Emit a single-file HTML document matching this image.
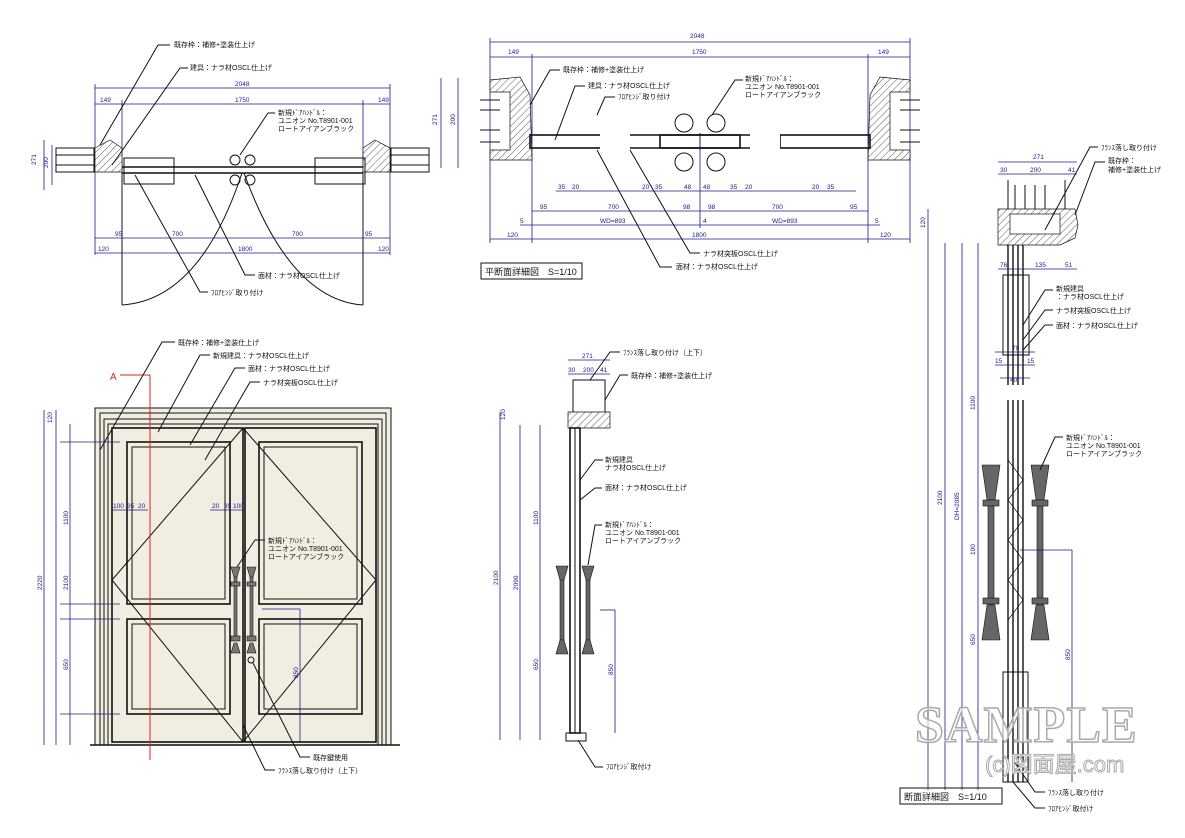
<!DOCTYPE html>
<html><head><meta charset="utf-8"><style>
html,body{margin:0;padding:0;background:#fff;width:1185px;height:838px;overflow:hidden}
svg{display:block}
text{font-family:"Liberation Sans","Noto Sans CJK JP",sans-serif;font-size:7px;fill:#111}
.d{font-size:6.5px;fill:#1a1a8c}
.b{stroke:#1a1a8c;stroke-width:.8;fill:none}
.k{stroke:#111;stroke-width:1;fill:none}
.k2{stroke:#111;stroke-width:1.6;fill:none}
.h{stroke:#111;stroke-width:.7;fill:url(#hat)}
</style></head><body>
<svg width="1185" height="838" viewBox="0 0 1185 838" xmlns="http://www.w3.org/2000/svg">
<defs><pattern id="hat" width="5" height="5" patternUnits="userSpaceOnUse" patternTransform="rotate(45)"><rect width="5" height="5" fill="#fff"/><line x1="0" y1="0" x2="0" y2="5" stroke="#111" stroke-width=".7"/></pattern></defs>

<!-- ===== Top-left plan ===== -->
<g>
<line class="b" x1="95" y1="88" x2="390" y2="88"/><text class="d" x="235" y="86">2048</text>
<line class="b" x1="95" y1="104" x2="390" y2="104"/><text class="d" x="100" y="102">149</text><text class="d" x="235" y="102">1750</text><text class="d" x="378" y="102">149</text>
<line class="b" x1="95" y1="84" x2="95" y2="255"/><line class="b" x1="390" y1="84" x2="390" y2="255"/>
<line class="b" x1="122" y1="100" x2="122" y2="240"/><line class="b" x1="363" y1="100" x2="363" y2="240"/>
<line class="b" x1="44" y1="140" x2="44" y2="190"/><text class="d" x="36" y="165" transform="rotate(-90 36 165)">271</text>
<line class="b" x1="52" y1="145" x2="52" y2="185"/><text class="d" x="48" y="168" transform="rotate(-90 48 168)">200</text>
<path class="h" d="M95 148 L110 140 L122 148 L122 172 L95 172 Z"/>
<path class="h" d="M363 148 L375 140 L390 148 L390 172 L363 172 Z"/>
<rect class="k" x="56" y="148" width="38" height="24"/><line class="k" x1="56" y1="155" x2="94" y2="155"/><line class="k" x1="56" y1="165" x2="94" y2="165"/>
<rect class="k" x="391" y="148" width="38" height="24"/><line class="k" x1="391" y1="155" x2="429" y2="155"/><line class="k" x1="391" y1="165" x2="429" y2="165"/>
<line class="k2" x1="122" y1="167" x2="363" y2="167"/><line class="k2" x1="122" y1="173" x2="363" y2="173"/>
<rect class="k" x="124" y="158" width="50" height="26"/><rect class="k" x="315" y="158" width="50" height="26"/>
<circle class="k" cx="235" cy="160" r="5"/><circle class="k" cx="250" cy="160" r="5"/><circle class="k" cx="235" cy="180" r="5"/><circle class="k" cx="250" cy="180" r="5"/>
<line class="k" x1="122" y1="173" x2="122" y2="305"/><line class="k" x1="363" y1="173" x2="363" y2="305"/>
<path class="k" d="M122 305 Q200 300 242 173"/><path class="k" d="M363 305 Q290 300 244 173"/>
<line class="b" x1="95" y1="238" x2="390" y2="238"/><text class="d" x="115" y="236">95</text><text class="d" x="172" y="236">700</text><text class="d" x="292" y="236">700</text><text class="d" x="365" y="236">95</text>
<line class="b" x1="95" y1="253" x2="390" y2="253"/><text class="d" x="98" y="251">120</text><text class="d" x="238" y="251">1800</text><text class="d" x="378" y="251">120</text>
<polyline class="k" points="100,145 158,45 170,45"/><text x="174" y="47">既存枠：補修+塗装仕上げ</text>
<polyline class="k" points="112,165 180,68 188,68"/><text x="190" y="70">建具：ナラ材OSCL仕上げ</text>
<polyline class="k" points="240,155 268,113 275,113"/><text x="278" y="115">新規ﾄﾞｱﾊﾝﾄﾞﾙ：</text><text x="278" y="123">ユニオン No.T8901-001</text><text x="278" y="131">ロートアイアンブラック</text>
<polyline class="k" points="195,175 245,275 255,275"/><text x="258" y="278">面材：ナラ材OSCL仕上げ</text>
<polyline class="k" points="135,175 200,292 208,292"/><text x="211" y="295">ﾌﾛｱﾋﾝｼﾞ取り付け</text>
</g>

<!-- ===== Top-middle plan ===== -->
<g>
<line class="b" x1="490" y1="42" x2="910" y2="42"/><text class="d" x="690" y="38">2048</text>
<line class="b" x1="490" y1="57" x2="910" y2="57"/><text class="d" x="508" y="54">149</text><text class="d" x="692" y="54">1750</text><text class="d" x="878" y="54">149</text>
<line class="b" x1="490" y1="38" x2="490" y2="243"/><line class="b" x1="910" y1="38" x2="910" y2="243"/>
<line class="b" x1="532" y1="54" x2="532" y2="243"/><line class="b" x1="868" y1="54" x2="868" y2="243"/>
<line class="b" x1="441" y1="78" x2="441" y2="168"/><text class="d" x="437" y="125" transform="rotate(-90 437 125)">271</text>
<line class="b" x1="458" y1="78" x2="458" y2="168"/><text class="d" x="455" y="125" transform="rotate(-90 455 125)">200</text>
<path class="h" d="M490 80 L520 77 L530 95 L532 160 L490 160 L490 150 L510 150 L510 92 L490 92 Z"/>
<path class="h" d="M910 80 L880 77 L870 95 L868 160 L910 160 L910 150 L890 150 L890 92 L910 92 Z"/>
<line class="k" x1="480" y1="100" x2="500" y2="100"/><line class="k" x1="480" y1="110" x2="500" y2="110"/><line class="k" x1="480" y1="130" x2="500" y2="130"/><line class="k" x1="480" y1="142" x2="500" y2="142"/>
<line class="k" x1="900" y1="100" x2="920" y2="100"/><line class="k" x1="900" y1="110" x2="920" y2="110"/><line class="k" x1="900" y1="130" x2="920" y2="130"/><line class="k" x1="900" y1="142" x2="920" y2="142"/>
<rect class="k2" x="530" y="135" width="90" height="13"/><rect class="k2" x="780" y="135" width="90" height="13"/>
<line class="k2" x1="620" y1="135" x2="780" y2="135"/><line class="k2" x1="620" y1="148" x2="780" y2="148"/>
<rect fill="#fff" x="600" y="130" width="30" height="22"/><rect fill="#fff" x="750" y="130" width="30" height="22"/>
<rect class="k2" x="660" y="135" width="80" height="13"/>
<line class="k" x1="700" y1="133" x2="700" y2="150"/>
<circle class="k" cx="684" cy="123" r="9"/><circle class="k" cx="716" cy="123" r="9"/><circle class="k" cx="684" cy="162" r="9"/><circle class="k" cx="716" cy="162" r="9"/>
<line class="b" x1="532" y1="211" x2="868" y2="211"/><text class="d" x="540" y="209">95</text><text class="d" x="608" y="209">700</text><text class="d" x="683" y="209">98</text><text class="d" x="708" y="209">98</text><text class="d" x="772" y="209">700</text><text class="d" x="850" y="209">95</text>
<line class="b" x1="520" y1="225" x2="880" y2="225"/><text class="d" x="520" y="223">5</text><text class="d" x="600" y="223">WD=893</text><text class="d" x="703" y="223">4</text><text class="d" x="772" y="223">WD=893</text><text class="d" x="875" y="223">5</text>
<line class="b" x1="490" y1="239" x2="910" y2="239"/><text class="d" x="507" y="237">120</text><text class="d" x="692" y="237">1800</text><text class="d" x="880" y="237">120</text>
<line class="b" x1="700" y1="135" x2="700" y2="228"/>
<text class="d" x="558" y="189">35</text><text class="d" x="572" y="189">20</text><text class="d" x="642" y="189">20</text><text class="d" x="655" y="189">35</text><text class="d" x="684" y="189">48</text><text class="d" x="703" y="189">48</text><text class="d" x="730" y="189">35</text><text class="d" x="745" y="189">20</text><text class="d" x="812" y="189">20</text><text class="d" x="827" y="189">35</text>
<line class="b" x1="556" y1="191" x2="856" y2="191"/>
<polyline class="k" points="530,105 550,70 560,70"/><text x="563" y="72">既存枠：補修+塗装仕上げ</text>
<polyline class="k" points="555,140 575,86 585,86"/><text x="588" y="88">建具：ナラ材OSCL仕上げ</text>
<polyline class="k" points="597,115 605,97 615,97"/><text x="618" y="99">ﾌﾛｱﾋﾝｼﾞ取り付け</text>
<polyline class="k" points="712,115 735,80 743,80"/><text x="745" y="81">新規ﾄﾞｱﾊﾝﾄﾞﾙ：</text><text x="745" y="89">ユニオン No.T8901-001</text><text x="745" y="97">ロートアイアンブラック</text>
<polyline class="k" points="630,150 690,253 700,253"/><text x="703" y="256">ナラ材突板OSCL仕上げ</text>
<polyline class="k" points="597,150 660,267 672,267"/><text x="676" y="269">面材：ナラ材OSCL仕上げ</text>
<rect class="k" x="481" y="263" width="101" height="16"/><text x="485" y="275" style="font-size:9px">平断面詳細図　S=1/10</text>
</g>

<!-- ===== Elevation ===== -->
<g>
<rect x="95" y="408" width="296" height="337" fill="#f2ede1" stroke="#111"/>
<rect class="k" x="100" y="413" width="286" height="332"/>
<rect class="k" x="104" y="419" width="278" height="326"/>
<rect class="k" x="108" y="424" width="270" height="321"/>
<rect class="k2" x="112" y="428" width="131" height="314"/>
<rect class="k2" x="245" y="428" width="131" height="314"/>
<rect class="k2" x="127" y="442" width="103" height="162"/><rect class="k" x="132" y="447" width="93" height="152"/>
<rect class="k2" x="127" y="619" width="103" height="95"/><rect class="k" x="132" y="624" width="93" height="85"/>
<rect class="k2" x="259" y="442" width="103" height="162"/><rect class="k" x="264" y="447" width="93" height="152"/>
<rect class="k2" x="259" y="619" width="103" height="95"/><rect class="k" x="264" y="624" width="93" height="85"/>
<polyline class="k" points="243,428 112,580 243,742 376,580 243,428"/>
<line x1="90" y1="745" x2="400" y2="745" stroke="#111" stroke-width="1.5"/>
<g fill="#777" stroke="#111" stroke-width=".6">
<rect x="234" y="575" width="3" height="62"/><rect x="250" y="575" width="3" height="62"/>
<path d="M231 567 L240 567 L237 577 L234 577 Z"/><path d="M247 567 L256 567 L253 577 L250 577 Z"/>
<path d="M234 643 L237 643 L240 653 L231 653 Z"/><path d="M250 643 L253 643 L256 653 L247 653 Z"/>
<rect x="231" y="582" width="9" height="4"/><rect x="247" y="582" width="9" height="4"/>
<rect x="231" y="636" width="9" height="5"/><rect x="247" y="636" width="9" height="5"/>
</g>
<circle class="k" cx="251" cy="660" r="3"/>
<line x1="150" y1="375" x2="150" y2="760" stroke="#d22" stroke-width="1"/>
<line x1="120" y1="375" x2="150" y2="375" stroke="#d22"/><text x="110" y="380" style="fill:#d22;font-size:10px">A</text>
<line class="b" x1="44" y1="410" x2="44" y2="745"/><text class="d" x="42" y="590" transform="rotate(-90 42 590)">2220</text>
<line class="b" x1="56" y1="410" x2="56" y2="745"/>
<line class="b" x1="70" y1="424" x2="70" y2="745"/>
<text class="d" x="52" y="423" transform="rotate(-90 52 423)">120</text>
<text class="d" x="68" y="590" transform="rotate(-90 68 590)">2100</text>
<text class="d" x="68" y="525" transform="rotate(-90 68 525)">1100</text>
<text class="d" x="68" y="670" transform="rotate(-90 68 670)">650</text>
<line class="b" x1="60" y1="442" x2="120" y2="442"/><line class="b" x1="60" y1="604" x2="120" y2="604"/><line class="b" x1="60" y1="619" x2="120" y2="619"/><line class="b" x1="60" y1="714" x2="120" y2="714"/>
<line class="b" x1="262" y1="609" x2="300" y2="609"/><line class="b" x1="300" y1="609" x2="300" y2="742"/><text class="d" x="298" y="678" transform="rotate(-90 298 678)">850</text>
<line class="b" x1="112" y1="510" x2="148" y2="510"/><text class="d" x="113" y="508">100</text><text class="d" x="127" y="508">35</text><text class="d" x="138" y="508">20</text>
<line class="b" x1="210" y1="510" x2="243" y2="510"/><text class="d" x="212" y="508">20</text><text class="d" x="224" y="508">35</text><text class="d" x="233" y="508">100</text>
<polyline class="k" points="100,450 162,342 175,342"/><text x="178" y="345">既存枠：補修+塗装仕上げ</text>
<polyline class="k" points="158,432 200,355 210,355"/><text x="213" y="358">新規建具：ナラ材OSCL仕上げ</text>
<polyline class="k" points="190,445 235,368 245,368"/><text x="248" y="371">面材：ナラ材OSCL仕上げ</text>
<polyline class="k" points="205,460 250,382 260,382"/><text x="263" y="385">ナラ材突板OSCL仕上げ</text>
<polyline class="k" points="237,567 255,540 265,540"/><text x="268" y="543">新規ﾄﾞｱﾊﾝﾄﾞﾙ：</text><text x="268" y="551">ユニオン No.T8901-001</text><text x="268" y="559">ロートアイアンブラック</text>
<polyline class="k" points="253,663 300,757 310,757"/><text x="313" y="760">既存鍵使用</text>
<polyline class="k" points="243,725 265,770 275,770"/><text x="278" y="773">ﾌﾗﾝｽ落し取り付け（上下）</text>
</g>

<!-- ===== Middle section ===== -->
<g>
<line class="b" x1="568" y1="360" x2="610" y2="360"/><text class="d" x="582" y="358">271</text>
<line class="b" x1="568" y1="374" x2="610" y2="374"/><text class="d" x="568" y="372">30</text><text class="d" x="583" y="372">200</text><text class="d" x="600" y="372">41</text>
<rect class="k" x="573" y="380" width="32" height="35"/>
<path class="h" d="M568 412 L610 412 L610 428 L568 428 Z"/>
<rect class="k2" x="570" y="428" width="10" height="305"/>
<line class="k" x1="575" y1="428" x2="575" y2="733"/>
<rect class="k" x="566" y="733" width="20" height="8"/>
<g fill="#666" stroke="#111" stroke-width=".6">
<rect x="560" y="570" width="4" height="70"/><rect x="586" y="570" width="4" height="70"/>
<path d="M556 566 L568 566 L564 580 L560 580 Z"/><path d="M582 566 L594 566 L590 580 L586 580 Z"/>
<path d="M560 640 L564 640 L568 654 L556 654 Z"/><path d="M586 640 L590 640 L594 654 L582 654 Z"/>
</g>
<line class="b" x1="500" y1="412" x2="500" y2="740"/><text class="d" x="498" y="585" transform="rotate(-90 498 585)">2100</text>
<line class="b" x1="520" y1="425" x2="520" y2="740"/><text class="d" x="518" y="590" transform="rotate(-90 518 590)">2090</text>
<line class="b" x1="540" y1="425" x2="540" y2="740"/><text class="d" x="538" y="525" transform="rotate(-90 538 525)">1100</text><text class="d" x="538" y="670" transform="rotate(-90 538 670)">650</text>
<line class="b" x1="600" y1="610" x2="615" y2="610"/><line class="b" x1="615" y1="610" x2="615" y2="733"/><text class="d" x="613" y="675" transform="rotate(-90 613 675)">850</text>
<text class="d" x="505" y="420" transform="rotate(-90 505 420)">120</text>
<polyline class="k" points="590,380 610,352 620,352"/><text x="623" y="355">ﾌﾗﾝｽ落し取り付け（上下）</text>
<polyline class="k" points="605,400 620,375 628,375"/><text x="631" y="378">既存枠：補修+塗装仕上げ</text>
<polyline class="k" points="580,480 595,460 603,460"/><text x="605" y="462">新規建具</text><text x="605" y="470">ナラ材OSCL仕上げ</text>
<polyline class="k" points="580,500 595,488 602,488"/><text x="605" y="490">面材：ナラ材OSCL仕上げ</text>
<polyline class="k" points="588,565 595,525 602,525"/><text x="605" y="527">新規ﾄﾞｱﾊﾝﾄﾞﾙ：</text><text x="605" y="535">ユニオン No.T8901-001</text><text x="605" y="543">ロートアイアンブラック</text>
<polyline class="k" points="578,740 595,767 603,767"/><text x="606" y="769">ﾌﾛｱﾋﾝｼﾞ取付け</text>
</g>

<!-- ===== Right section ===== -->
<g>
<line class="b" x1="998" y1="162" x2="1077" y2="162"/><text class="d" x="1033" y="159">271</text>
<line class="b" x1="998" y1="174" x2="1077" y2="174"/><text class="d" x="1000" y="172">30</text><text class="d" x="1030" y="172">200</text><text class="d" x="1068" y="172">41</text>
<line class="k" x1="1008" y1="180" x2="1008" y2="210"/><line class="k" x1="1065" y1="180" x2="1065" y2="210"/>
<line class="k" x1="1015" y1="185" x2="1015" y2="215"/><line class="k" x1="1025" y1="185" x2="1025" y2="215"/><line class="k" x1="1035" y1="185" x2="1035" y2="215"/><line class="k" x1="1045" y1="185" x2="1045" y2="215"/>
<path class="h" d="M998 209 L1075 209 L1078 225 L1075 238 L1060 245 L998 245 Z"/>
<rect x="1010" y="214" width="50" height="20" fill="#fff" stroke="#111" stroke-width=".7"/>
<g stroke="#111" stroke-width="1.4">
<line x1="1008" y1="245" x2="1008" y2="385"/><line x1="1013" y1="245" x2="1013" y2="385"/><line x1="1018" y1="245" x2="1018" y2="385"/><line x1="1023" y1="245" x2="1023" y2="385"/>
<line x1="1008" y1="400" x2="1008" y2="782"/><line x1="1013" y1="400" x2="1013" y2="782"/><line x1="1018" y1="400" x2="1018" y2="782"/><line x1="1023" y1="400" x2="1023" y2="782"/>
</g>
<rect class="k" x="1003" y="275" width="26" height="80"/>
<g stroke="#111" stroke-width=".7" fill="none"><polyline points="1008,460 1023,480 1008,500 1023,520 1008,540 1023,560 1008,580 1023,600 1008,620"/></g>
<g fill="#666" stroke="#111" stroke-width=".6">
<rect x="988" y="470" width="6" height="150"/><rect x="1037" y="470" width="6" height="150"/>
<path d="M982 465 L1000 465 L995 500 L987 500 Z"/><path d="M1031 465 L1049 465 L1044 500 L1036 500 Z"/>
<path d="M987 605 L995 605 L1000 640 L982 640 Z"/><path d="M1036 605 L1044 605 L1049 640 L1031 640 Z"/>
<rect x="983" y="500" width="16" height="6"/><rect x="1032" y="500" width="16" height="6"/>
<rect x="983" y="598" width="16" height="6"/><rect x="1032" y="598" width="16" height="6"/>
</g>
<rect class="k" x="1003" y="672" width="25" height="110"/>
<line class="b" x1="928" y1="209" x2="928" y2="790"/><text class="d" x="925" y="228" transform="rotate(-90 925 228)">120</text>
<line class="b" x1="945" y1="243" x2="945" y2="790"/><text class="d" x="942" y="505" transform="rotate(-90 942 505)">2100</text>
<line class="b" x1="962" y1="243" x2="962" y2="790"/><text class="d" x="959" y="520" transform="rotate(-90 959 520)">DH=2085</text>
<line class="b" x1="978" y1="243" x2="978" y2="790"/><text class="d" x="975" y="410" transform="rotate(-90 975 410)">1100</text><text class="d" x="975" y="645" transform="rotate(-90 975 645)">650</text>
<text class="d" x="975" y="555" transform="rotate(-90 975 555)">100</text>
<line class="b" x1="1020" y1="550" x2="1072" y2="550"/><line class="b" x1="1072" y1="550" x2="1072" y2="782"/><text class="d" x="1070" y="660" transform="rotate(-90 1070 660)">850</text>
<line class="b" x1="998" y1="269" x2="1077" y2="269"/><text class="d" x="1000" y="267">76</text><text class="d" x="1035" y="267">135</text><text class="d" x="1065" y="267">51</text>
<line class="b" x1="995" y1="352" x2="1035" y2="352"/><text class="d" x="1012" y="350">70</text>
<line class="b" x1="995" y1="365" x2="1035" y2="365"/><text class="d" x="995" y="363">15</text><text class="d" x="1027" y="363">15</text>
<line class="b" x1="1000" y1="378" x2="1030" y2="378"/><text class="d" x="1010" y="382">40</text>
<polyline class="k" points="1045,230 1090,147 1098,147"/><text x="1101" y="150">ﾌﾗﾝｽ落し取り付け</text>
<polyline class="k" points="1075,215 1095,162 1105,162"/><text x="1108" y="163">既存枠：</text><text x="1108" y="172">補修+塗装仕上げ</text>
<polyline class="k" points="1023,325 1045,290 1053,290"/><text x="1056" y="291">新規建具</text><text x="1056" y="299">：ナラ材OSCL仕上げ</text>
<polyline class="k" points="1023,340 1045,310 1053,310"/><text x="1056" y="313">ナラ材突板OSCL仕上げ</text>
<polyline class="k" points="1023,350 1045,325 1053,325"/><text x="1056" y="328">面材：ナラ材OSCL仕上げ</text>
<polyline class="k" points="1040,470 1055,437 1063,437"/><text x="1066" y="440">新規ﾄﾞｱﾊﾝﾄﾞﾙ：</text><text x="1066" y="448">ユニオン No.T8901-001</text><text x="1066" y="456">ロートアイアンブラック</text>
<polyline class="k" points="1013,760 1035,792 1045,792"/><text x="1048" y="795">ﾌﾗﾝｽ落し取り付け</text>
<polyline class="k" points="1013,782 1035,808 1045,808"/><text x="1048" y="811">ﾌﾛｱﾋﾝｼﾞ取付け</text>
<rect class="k" x="900" y="788" width="102" height="16"/><text x="904" y="800" style="font-size:9px">断面詳細図　S=1/10</text>
</g>

<!-- watermark -->
<text x="915" y="742" style="font-family:'Liberation Serif',serif;font-size:52px;font-weight:bold;fill:#fff;fill-opacity:.6;stroke:#aaa;stroke-width:1.5;letter-spacing:1px">SAMPLE</text>
<text x="985" y="772" style="font-size:22px;fill:#fff;stroke:#aaa;stroke-width:1">(c)図面屋.com</text>
</svg>
</body></html>
